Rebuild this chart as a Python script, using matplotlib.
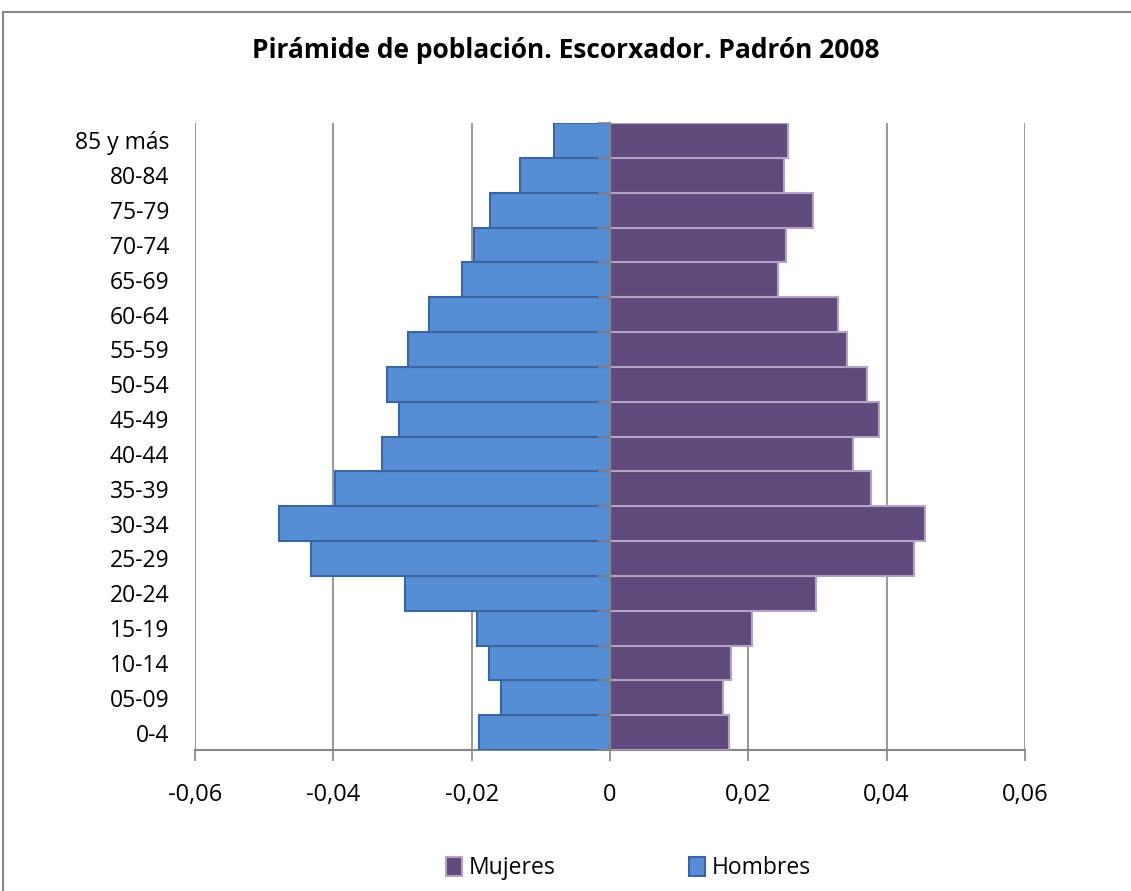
import matplotlib
matplotlib.use("Agg")
import matplotlib.pyplot as plt
from matplotlib.patches import Rectangle
from matplotlib.ticker import FuncFormatter
import numpy as np

plt.rcParams['font.family'] = ['Open Sans', 'DejaVu Sans']

grupos = ['0-4', '05-09', '10-14', '15-19', '20-24', '25-29', '30-34', '35-39',
          '40-44', '45-49', '50-54', '55-59', '60-64', '65-69', '70-74', '75-79',
          '80-84', '85 y más']
hombres = [-0.0190, -0.0157, -0.0175, -0.0193, -0.0296, -0.0433, -0.0478, -0.0397,
           -0.0330, -0.0305, -0.0322, -0.0292, -0.0262, -0.0214, -0.0196, -0.0174,
           -0.0130, -0.0081]
mujeres = [0.0172, 0.0164, 0.0175, 0.0206, 0.0298, 0.0439, 0.0456, 0.0377,
           0.0352, 0.0389, 0.0371, 0.0343, 0.0329, 0.0243, 0.0254, 0.0293,
           0.0251, 0.0258]
xticks = [-0.06, -0.04, -0.02, 0, 0.02, 0.04, 0.06]

W, H = 1131, 891
fig = plt.figure(figsize=(W / 100, H / 100), dpi=100)
ax = fig.add_axes([195 / W, 1 - 750 / H, 830 / W, 627 / H])

gris = '#868686'
y = np.arange(len(grupos))

barras_m = ax.barh(y, mujeres, height=1.0, color='#604A7B', edgecolor='#B3A2C7',
                   linewidth=1.5, zorder=3, label='Mujeres')
barras_h = ax.barh(y, hombres, height=1.0, color='#558ED5', edgecolor='#3B64A0',
                   linewidth=1.5, zorder=3, label='Hombres')

ax.set_xlim(-0.06, 0.06)
ax.set_ylim(-0.5, len(grupos) - 0.5)
ax.set_xticks(xticks)
ax.xaxis.set_major_formatter(FuncFormatter(
    lambda v, p: '0' if abs(v) < 1e-9 else ('%.2f' % v).replace('.', ',')))
ax.grid(axis='x', color=gris, linewidth=1.2, zorder=0)
ax.set_axisbelow(True)

for s in ['top', 'right', 'left']:
    ax.spines[s].set_visible(False)
ax.spines['bottom'].set_color(gris)
ax.spines['bottom'].set_linewidth(1.5)
ax.tick_params(axis='x', direction='out', length=8, width=1.2, color=gris,
               labelsize=17, pad=16)

ax.set_yticks(y)
ax.set_yticklabels(grupos)
ax.tick_params(axis='y', length=0, labelsize=16.5, pad=18.5)

# eje vertical en el cero con marcas entre categorias (hacia la izquierda)
eje0 = ax.secondary_yaxis(0.5)
eje0.set_zorder(5)
for s in eje0.spines.values():
    s.set_color(gris)
    s.set_linewidth(1.5)
eje0.set_yticks(np.arange(len(grupos) + 1) - 0.5)
eje0.set_yticklabels([])
eje0.tick_params(axis='y', direction='in', length=9, width=1.2, color=gris,
                 labelleft=False, labelright=False)

fig.text(0.5, 1 - 50 / H, 'Pirámide de población. Escorxador. Padrón 2008',
         ha='center', va='center', fontsize=19, fontweight='bold')

ax.legend([barras_m, barras_h], ['Mujeres', 'Hombres'], loc='center',
          bbox_to_anchor=(0.5555, 1 - 868 / H), bbox_transform=fig.transFigure,
          ncol=2, frameon=False, fontsize=16.5, handlelength=0.7, handleheight=0.9,
          handletextpad=0.3, columnspacing=5.8)

fig.patches.append(Rectangle((3 / W, -0.1), 1.0, 1.1 - 12 / H,
                             transform=fig.transFigure, fill=False,
                             edgecolor=gris, linewidth=1.5))

fig.savefig('out.png', dpi=100)
